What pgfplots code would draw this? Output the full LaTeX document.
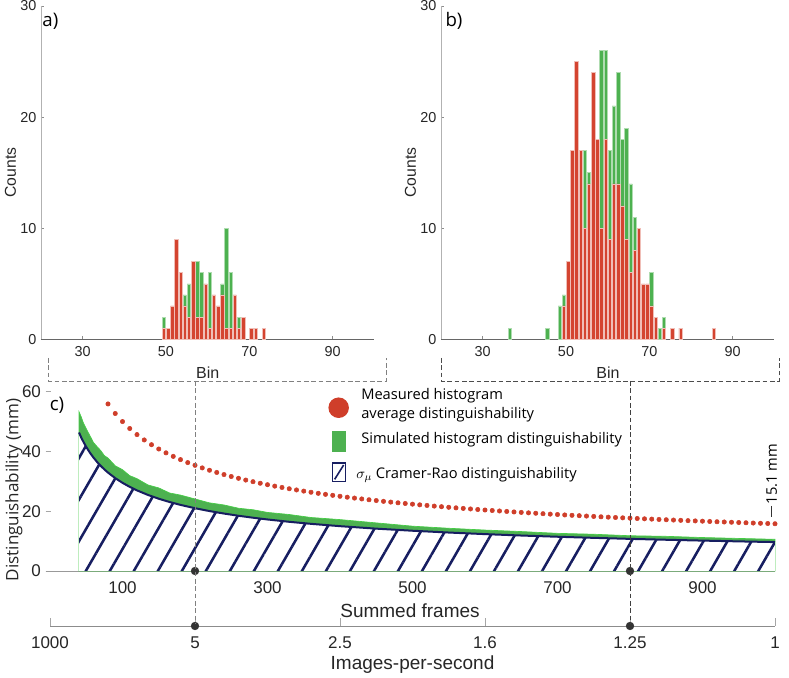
\documentclass[border=0pt]{standalone}
\usepackage{fontspec}
\setmainfont{Liberation Sans}
\newfontfamily\os{Open Sans}
\usepackage{pgfplots}
\usepackage{pgfplotstable}
\pgfplotsset{compat=1.18}
\usetikzlibrary{patterns.meta}

\definecolor{barred}{RGB}{212,68,48}
\definecolor{bargreen}{RGB}{77,177,80}
\definecolor{simedge}{RGB}{70,205,70}
\definecolor{navy}{RGB}{23,30,97}
\definecolor{dotred}{RGB}{207,62,42}

% panel a histograms (bin centre, counts)
\pgfplotstableread{
x y
49.5 2
54.5 4
55.5 5
57.5 7
58.5 6
60.5 6
63.5 5
64.5 10
65.5 6
67.5 2
}\aGreen
\pgfplotstableread{
x y
49.5 1
50.5 1
51.5 3
52.5 9
53.5 6
54.5 3
55.5 2
56.5 7
57.5 2
58.5 2
59.5 5
60.5 1
61.5 4
62.5 3
63.5 4
64.5 1
65.5 1
66.5 4
67.5 1
68.5 2
70.5 1
71.5 1
73.5 1
}\aRed

% panel b histograms
\pgfplotstableread{
x y
36.5 1
45.5 1
48.5 3
49.5 4
54.5 17
55.5 15
58.5 26
59.5 26
60.5 17
61.5 21
62.5 24
63.5 18
64.5 19
65.5 14
66.5 11
70.5 6
72.5 1
73.5 2
}\bGreen
\pgfplotstableread{
x y
49.5 3
50.5 7
51.5 17
52.5 25
53.5 17
54.5 10
55.5 14
56.5 24
57.5 18
58.5 10
59.5 18
60.5 9
61.5 14
62.5 14
63.5 12
64.5 9
65.5 6
66.5 8
67.5 10
68.5 5
69.5 5
70.5 3
71.5 2
73.5 1
75.5 1
77.5 1
85.5 1
}\bRed

% panel c
\pgfplotstableread{
x y
40 53.3
43 51.6
46 49.6
50 47.6
55 45.3
60 43.0
65 41.6
70 40.3
75 38.6
80 37.8
90 35.2
100 33.9
110 31.9
120 30.9
135 28.8
150 27.8
165 26.1
180 25.4
200 24.1
220 22.8
240 22.1
260 21.0
280 20.5
300 19.6
330 18.9
360 17.9
400 17.2
450 16.1
500 15.0
550 14.3
600 13.7
650 13.2
700 12.6
750 12.3
800 11.8
850 11.6
900 11.2
950 10.9
1000 10.6
}\simTop
\pgfplotstableread{
x y
40 46.35
43 44.70
46 43.26
50 41.51
55 39.60
60 37.94
65 36.47
70 35.16
75 33.99
80 32.92
90 31.07
100 29.50
110 28.15
120 26.97
135 25.46
150 24.18
165 23.08
180 22.12
200 21.01
220 20.05
240 19.22
260 18.48
280 17.83
300 17.24
330 16.46
360 15.78
400 15.00
450 14.17
500 13.47
550 12.87
600 12.34
650 11.87
700 11.46
750 11.09
800 10.75
850 10.45
900 10.17
950 9.91
1000 9.67
}\crb
\pgfplotstableread{
x y
80 55.90
90 52.70
100 50.00
110 47.67
120 45.64
130 43.85
140 42.26
150 40.82
160 39.53
170 38.35
180 37.27
190 36.27
200 35.36
210 34.50
220 33.71
230 32.97
240 32.27
250 31.62
260 31.01
270 30.43
280 29.88
290 29.36
300 28.87
310 28.40
320 27.95
330 27.52
340 27.12
350 26.73
360 26.35
370 25.99
380 25.65
390 25.32
400 25.00
410 24.69
420 24.40
430 24.11
440 23.84
450 23.57
460 23.31
470 23.06
480 22.82
490 22.59
500 22.36
510 22.14
520 21.93
530 21.72
540 21.52
550 21.32
560 21.13
570 20.94
580 20.76
590 20.58
600 20.41
610 20.24
620 20.08
630 19.92
640 19.76
650 19.61
660 19.46
670 19.32
680 19.17
690 19.03
700 18.90
710 18.76
720 18.63
730 18.51
740 18.38
750 18.26
760 18.14
770 18.02
780 17.90
790 17.79
800 17.68
810 17.57
820 17.46
830 17.36
840 17.25
850 17.15
860 17.05
870 16.95
880 16.85
890 16.76
900 16.67
910 16.57
920 16.48
930 16.40
940 16.31
950 16.22
960 16.14
970 16.05
980 15.97
990 15.89
1000 15.81
}\measured

\pgfplotsset{
  /pgf/number format/assume math mode=true,
  hist/.style={
    scale only axis, width=250pt, height=250pt,
    xmin=20, xmax=100, ymin=0, ymax=30,
    xtick={30,50,70,90}, ytick={0,10,20,30},
    axis x line*=bottom, axis y line*=left,
    axis line style={-},
    x axis line style={black!60, line width=0.6pt},
    y axis line style={black!30, line width=0.6pt},
    tick style={black!45, line width=0.5pt},
    tick align=inside, major tick length=2.5pt,
    tick label style={font=\fontsize{10.8}{12}\selectfont, text=black!85},
    xticklabel style={anchor=center, yshift=-9.3pt},
    yticklabel style={anchor=east},
    ylabel={Counts},
    ylabel style={font=\fontsize{11.8}{13}\selectfont, text=black!85,
      at={(axis description cs:-0.0915,0.5)}, anchor=center},
  },
}

\begin{document}
\begin{tikzpicture}
\useasboundingbox (0,0) rectangle (591.75pt,508.5pt);

% a)
\begin{axis}[hist, at={(30.75pt,254pt)}, anchor=south west]
\addplot[ybar, bar shift=0pt, bar width=0.82, fill=bargreen, draw=bargreen!45!white, line width=0.35pt] table {\aGreen};
\addplot[ybar, bar shift=0pt, bar width=0.82, fill=barred, draw=barred!35!white, line width=0.35pt] table {\aRed};
\end{axis}

% b)
\begin{axis}[hist, at={(330.75pt,254pt)}, anchor=south west]
\addplot[ybar, bar shift=0pt, bar width=0.82, fill=bargreen, draw=bargreen!45!white, line width=0.35pt] table {\bGreen};
\addplot[ybar, bar shift=0pt, bar width=0.82, fill=barred, draw=barred!35!white, line width=0.35pt] table {\bRed};
\end{axis}

% c)
\begin{axis}[
    at={(34.24pt,80.25pt)}, anchor=south west,
    scale only axis, width=547pt, height=134.5pt,
    xmin=-6, xmax=1000, ymin=0, ymax=60,
    xtick={100,300,...,900}, ytick={0,20,40,60},
    axis x line*=bottom, axis y line*=left,
    axis line style={-},
    x axis line style={black!40, line width=0.6pt},
    y axis line style={draw=none},
    tick style={black!35, line width=0.5pt},
    tick align=inside, major tick length=4pt,
    tick label style={font=\fontsize{12.75}{14}\selectfont, text=black!85},
    xticklabel style={anchor=center, yshift=-12.75pt},
    yticklabel style={anchor=east},
    xlabel={Summed frames},
    xlabel style={font=\fontsize{14.25}{16}\selectfont, text=black!85,
      at={(axis description cs:0.4996,0)}, anchor=center, yshift=-30pt},
    ylabel={\os Distinguishability (mm)},
    ylabel style={font=\fontsize{12.8}{14}\selectfont, text=black!85,
      at={(axis description cs:-0.0434,0.452)}, anchor=center},
    clip=false]
\addplot[fill=bargreen, draw=simedge, line width=0.5pt] table {\simTop} \closedcycle;
\addplot[fill=white, draw=none] table {\crb} \closedcycle;
\addplot[pattern={Lines[angle=60,distance=15.6pt,line width=1.9pt]}, pattern color=navy, draw=none] table {\crb} \closedcycle;
\addplot[navy, line width=1.5pt] table {\crb};
\addplot[only marks, mark=*, mark size=1.65pt, dotred] table {\measured};
\addplot[only marks, mark=*, mark size=2.9pt, black!80] coordinates {(200,0) (800,0)};
\end{axis}

% images-per-second axis
\begin{axis}[
    at={(37.5pt,39pt)}, anchor=south west,
    scale only axis, width=543.75pt, height=1pt,
    xmin=0, xmax=1000, ymin=0, ymax=1,
    axis x line*=bottom, axis y line=none,
    axis line style={-},
    x axis line style={black!45, line width=0.6pt},
    tick style={black!35, line width=0.5pt},
    tick align=inside, major tick length=6pt,
    xtick={0,200,...,1000},
    xticklabels={1000,5,2.5,1.6,1.25,1},
    tick label style={font=\fontsize{12.75}{14}\selectfont, text=black!85},
    xticklabel style={anchor=center, yshift=-12.5pt},
    xlabel={Images-per-second},
    xlabel style={font=\fontsize{14.25}{16}\selectfont, text=black!85,
      at={(axis description cs:0.5,0)}, anchor=center, yshift=-29.25pt},
    clip=false]
\addplot[only marks, mark=*, mark size=2.9pt, black!80] coordinates {(200,0) (800,0)};
\end{axis}

% bin brackets and guide lines
\draw[black!50, line width=0.7pt, dash pattern=on 3.5pt off 2pt]
  (36.2pt,240pt) -- (36.2pt,222.75pt) -- (289.5pt,222.75pt) -- (289.5pt,240pt);
\draw[black!70, line width=0.7pt, dash pattern=on 3.5pt off 2pt]
  (330.75pt,240pt) -- (330.75pt,222.75pt) -- (584.25pt,222.75pt) -- (584.25pt,240pt);
\draw[black!50, line width=0.7pt, dash pattern=on 3.5pt off 2pt] (146.25pt,222.75pt) -- (146.25pt,41pt);
\draw[black!75, line width=0.7pt, dash pattern=on 3.5pt off 2pt] (472.5pt,222.75pt) -- (472.5pt,41pt);
\node[font=\fontsize{12}{13}\selectfont, text=black!85] at (155.8pt,229pt) {Bin};
\node[font=\fontsize{12}{13}\selectfont, text=black!85] at (456pt,229pt) {Bin};

% panel letters
\node[font=\os\fontsize{14}{16}\selectfont] at (37.8pt,492.75pt) {a)};
\node[font=\os\fontsize{14}{16}\selectfont] at (340.5pt,492.75pt) {b)};
\node[font=\os\fontsize{14}{16}\selectfont] at (42.8pt,204.75pt) {c)};

% legend
\fill[dotred] (254pt,202.7pt) circle (7.7pt);
\fill[bargreen] (249.2pt,169.7pt) rectangle (259.3pt,185.5pt);
\draw[navy, line width=1.2pt] (249.5pt,147.5pt) rectangle (259.2pt,161.2pt);
\draw[navy, line width=1.2pt] (251pt,149pt) -- (257.7pt,159.7pt);
\begin{scope}[every node/.style={anchor=west, inner sep=0pt, font=\os\fontsize{11}{13}\selectfont}]
\node at (270.75pt,211.5pt) {Measured histogram};
\node at (270.75pt,197.25pt) {average distinguishability};
\node at (270.75pt,178.5pt) {Simulated histogram distinguishability};
\node at (267pt,152.25pt) {$\sigma_\mu$ Cramer-Rao distinguishability};
\end{scope}

% end value label
\node[rotate=90, font=\os\fontsize{11}{12}\selectfont] at (578.8pt,153pt) {15.1 mm};
\draw[black!80, line width=0.5pt] (578.8pt,129pt) -- (578.8pt,121pt);
\end{tikzpicture}
\end{document}
